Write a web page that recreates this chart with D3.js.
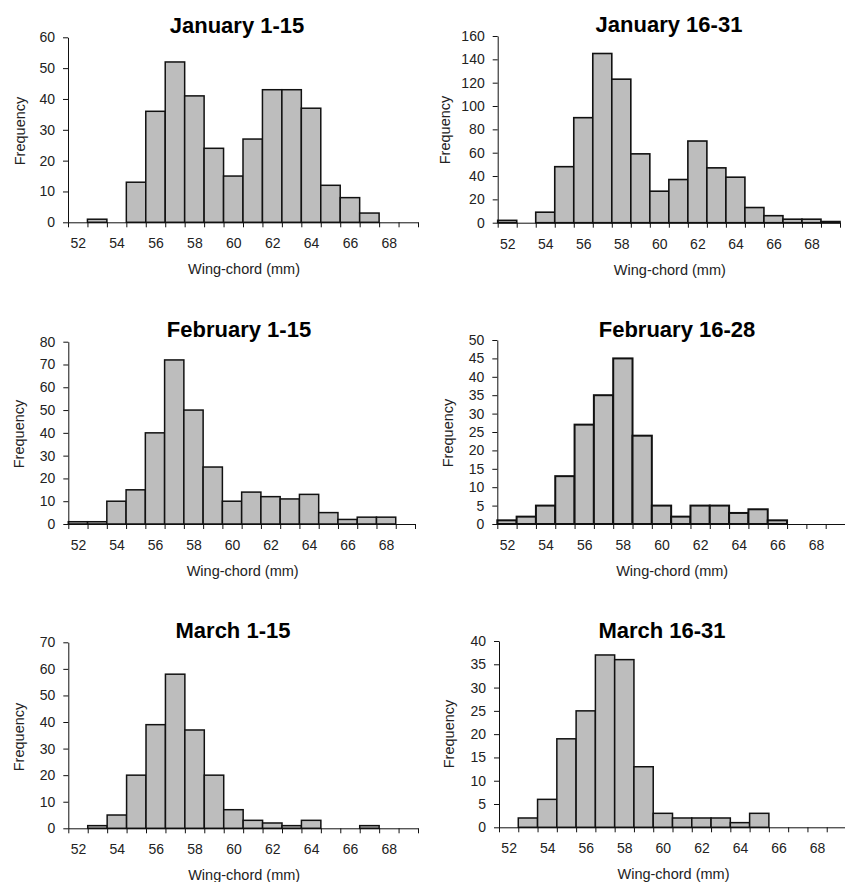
<!DOCTYPE html>
<html>
<head>
<meta charset="utf-8">
<script src="https://cdn.jsdelivr.net/npm/d3@7"></script>
<style>
  html, body { margin: 0; padding: 0; background: #fff; }
  svg { display: block; }
  text { font-family: Arial, "Liberation Sans", sans-serif; }
</style>
</head>
<body>
<svg id="chart" width="845" height="882"></svg>
<script>
// ---- Data ----
const categories = [52, 53, 54, 55, 56, 57, 58, 59, 60, 61, 62, 63, 64, 65, 66, 67, 68, 69];
const xTickLabels = [52, 54, 56, 58, 60, 62, 64, 66, 68];

const jan1_15  = [0, 1, 0, 13, 36, 52, 41, 24, 15, 27, 43, 43, 37, 12, 8, 3, 0, 0];
const jan16_31 = [2, 0, 9, 48, 90, 145, 123, 59, 27, 37, 70, 47, 39, 13, 6, 3, 3, 1];
const feb1_15  = [1, 1, 10, 15, 40, 72, 50, 25, 10, 14, 12, 11, 13, 5, 2, 3, 3, 0];
const feb16_28 = [1, 2, 5, 13, 27, 35, 45, 24, 5, 2, 5, 5, 3, 4, 1, 0, 0, 0];
const mar1_15  = [0, 1, 5, 20, 39, 58, 37, 20, 7, 3, 2, 1, 3, 0, 0, 1, 0, 0];
const mar16_31 = [0, 2, 6, 19, 25, 37, 36, 13, 3, 2, 2, 2, 1, 3, 0, 0, 0, 0];

const yTicksJan1  = [0, 10, 20, 30, 40, 50, 60];
const yTicksJan16 = [0, 20, 40, 60, 80, 100, 120, 140, 160];
const yTicksFeb1  = [0, 10, 20, 30, 40, 50, 60, 70, 80];
const yTicksFeb16 = [0, 5, 10, 15, 20, 25, 30, 35, 40, 45, 50];
const yTicksMar1  = [0, 10, 20, 30, 40, 50, 60, 70];
const yTicksMar16 = [0, 5, 10, 15, 20, 25, 30, 35, 40];

const titles = ["January 1-15", "January 16-31", "February 1-15", "February 16-28", "March 1-15", "March 16-31"];
const xAxisTitle = "Wing-chord (mm)";
const yAxisTitle = "Frequency";

// ---- Layout (positions / styles) ----
const panels = [
  { title: titles[0], values: jan1_15,  yTicks: yTicksJan1,  x0: 68,    x1: 418, yTop: 37.3,  yBot: 222.3, tx: 237, ty: 33,  fx: 25,  fy: 131, sw: 1.5 },
  { title: titles[1], values: jan16_31, yTicks: yTicksJan16, x0: 497.7, x1: 840, yTop: 36,    yBot: 222.7, tx: 669, ty: 32,  fx: 450, fy: 130, sw: 1.6 },
  { title: titles[2], values: feb1_15,  yTicks: yTicksFeb1,  x0: 68.3,  x1: 415, yTop: 341.7, yBot: 524,   tx: 239, ty: 337, fx: 24,  fy: 434, sw: 1.5 },
  { title: titles[3], values: feb16_28, yTicks: yTicksFeb16, x0: 497.3, x1: 845, yTop: 340,   yBot: 524,   tx: 677, ty: 337, fx: 453, fy: 433, sw: 2 },
  { title: titles[4], values: mar1_15,  yTicks: yTicksMar1,  x0: 68.3,  x1: 418, yTop: 642.3, yBot: 828.3, tx: 233, ty: 638, fx: 24,  fy: 737, sw: 1.5 },
  { title: titles[5], values: mar16_31, yTicks: yTicksMar16, x0: 499,   x1: 846, yTop: 641,   yBot: 827.3, tx: 662, ty: 638, fx: 454, fy: 734, sw: 1.5 }
];

const svg = d3.select("#chart");
const barFill = "#bdbdbd";
const ink = "#111";

panels.forEach(p => {
  const g = svg.append("g");
  const first = categories[0], last = categories[categories.length - 1];
  const x = d3.scaleLinear().domain([first - 0.5, last + 0.5]).range([p.x0, p.x1]);
  const y = d3.scaleLinear().domain([0, d3.max(p.yTicks)]).range([p.yBot, p.yTop]);

  // bars
  const data = categories.map((c, i) => ({ c, v: p.values[i] })).filter(d => d.v > 0);
  g.selectAll("rect.bar").data(data).join("rect")
    .attr("class", "bar")
    .attr("x", d => x(d.c - 0.5))
    .attr("width", d => x(d.c + 0.5) - x(d.c - 0.5))
    .attr("y", d => y(d.v))
    .attr("height", d => y(0) - y(d.v))
    .attr("fill", barFill)
    .attr("stroke", ink)
    .attr("stroke-width", p.sw);

  // x axis: boundary ticks
  const boundaries = categories.map(c => c - 0.5).concat([last + 0.5]);
  const xAxisTicks = g.append("g")
    .attr("transform", `translate(0,${p.yBot})`)
    .call(d3.axisBottom(x).tickValues(boundaries).tickFormat("").tickSize(5).tickSizeOuter(0));
  xAxisTicks.selectAll("path, line").attr("stroke", ink).attr("stroke-width", 1);

  // x axis: labels at category centres
  const xAxisLabels = g.append("g")
    .attr("transform", `translate(0,${p.yBot})`)
    .call(d3.axisBottom(x).tickValues(xTickLabels).tickSize(0).tickPadding(16));
  xAxisLabels.select(".domain").remove();
  xAxisLabels.selectAll("text").attr("font-size", 14).attr("fill", "#222")
    .attr("font-family", "Arial, 'Liberation Sans', sans-serif");

  // y axis
  const yAxis = g.append("g")
    .attr("transform", `translate(${p.x0},0)`)
    .call(d3.axisLeft(y).tickValues(p.yTicks).tickSize(5).tickSizeOuter(0).tickPadding(8));
  yAxis.selectAll("path, line").attr("stroke", ink).attr("stroke-width", 1);
  yAxis.selectAll("text").attr("font-size", 14).attr("fill", "#222")
    .attr("font-family", "Arial, 'Liberation Sans', sans-serif");

  // title
  g.append("text")
    .attr("x", p.tx).attr("y", p.ty)
    .attr("text-anchor", "middle")
    .attr("font-size", 22).attr("font-weight", "bold").attr("fill", "#000")
    .text(p.title);

  // axis titles
  g.append("text")
    .attr("x", (p.x0 + p.x1) / 2 + 1).attr("y", p.yBot + 52)
    .attr("text-anchor", "middle")
    .attr("font-size", 14.5).attr("fill", "#222")
    .text(xAxisTitle);

  g.append("text")
    .attr("transform", `translate(${p.fx},${p.fy}) rotate(-90)`)
    .attr("text-anchor", "middle")
    .attr("font-size", 14.5).attr("fill", "#222")
    .text(yAxisTitle);
});
</script>
</body>
</html>
